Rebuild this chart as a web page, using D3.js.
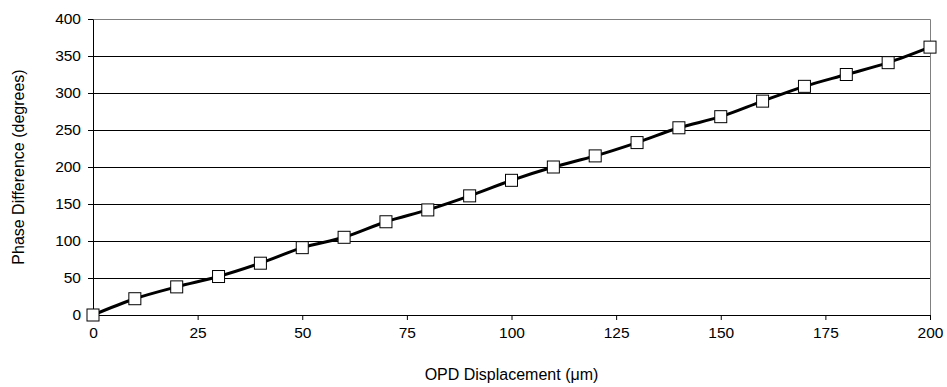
<!DOCTYPE html>
<html>
<head>
<meta charset="utf-8">
<script src="https://cdn.jsdelivr.net/npm/d3@7"></script>
<style>
	body { margin: 0; background: #fff; }
	.axis text { font-family: "Liberation Sans", Arial, sans-serif; font-size: 15.5px; fill: #000; }
	.axis path, .axis line { stroke: #000; }
</style>
</head>
<body>
<div id="area1"></div>
<script>
// data
var opd = [0, 10, 20, 30, 40, 50, 60, 70, 80, 90, 100, 110, 120, 130, 140, 150, 160, 170, 180, 190, 200];
var phase = [0, 22, 38, 52, 70, 91, 105, 126, 142, 161, 182, 200, 215, 233, 253, 268, 289, 309, 325, 341, 362];
var xTicks = [0, 25, 50, 75, 100, 125, 150, 175, 200];
var yTicks = [0, 50, 100, 150, 200, 250, 300, 350, 400];

var svgWidth = 947;
var svgHeight = 387;
var margin = {top: 19, right: 17, bottom: 72, left: 93};
var plotW = svgWidth - margin.left - margin.right;
var plotH = svgHeight - margin.top - margin.bottom;
var sq = 12; //marker size

var points = opd.map(function(d, i){ return {x: d, y: phase[i]}; });

var xScale = d3.scaleLinear().domain([0, 200]).range([0, plotW]);
var yScale = d3.scaleLinear().domain([0, 400]).range([plotH, 0]);

var svg = d3.select("#area1")
	.append("svg")
	.attr("width", svgWidth)
	.attr("height", svgHeight);

var g = svg.append("g")
	.attr("transform", "translate(" + margin.left + "," + margin.top + ")");

//gridlines
g.selectAll("line.grid")
	.data(yTicks.slice(1, -1))
	.enter()
	.append("line")
	.attr("class", "grid")
	.attr("x1", 0)
	.attr("x2", plotW)
	.attr("y1", function(d){ return Math.round(yScale(d)) + 0.5; })
	.attr("y2", function(d){ return Math.round(yScale(d)) + 0.5; })
	.attr("stroke", "#000")
	.attr("stroke-width", 1);

//plot border top and right
g.append("path")
	.attr("d", "M0,0.5H" + (plotW + 0.5) + "V" + plotH)
	.attr("fill", "none")
	.attr("stroke", "#808080")
	.attr("stroke-width", 1);

var xAxis = d3.axisBottom(xScale).tickValues(xTicks).tickSize(5).tickSizeOuter(0).tickPadding(7);
var yAxis = d3.axisLeft(yScale).tickValues(yTicks).tickSize(5).tickSizeOuter(0).tickPadding(7);

g.append("g")
	.attr("class", "axis")
	.attr("transform", "translate(0," + plotH + ")")
	.call(xAxis);

g.append("g")
	.attr("class", "axis")
	.call(yAxis);

//smoothed line
var line = d3.line()
	.x(function(d){ return xScale(d.x); })
	.y(function(d){ return yScale(d.y); })
	.curve(d3.curveCatmullRom.alpha(0.5));

g.append("path")
	.datum(points)
	.attr("d", line)
	.attr("fill", "none")
	.attr("stroke", "#000")
	.attr("stroke-width", 3);

//square markers
g.selectAll("rect.square")
	.data(points)
	.enter()
	.append("rect")
	.attr("class", "square")
	.attr("x", function(d){ return xScale(d.x) - sq / 2; })
	.attr("y", function(d){ return yScale(d.y) - sq / 2; })
	.attr("width", sq)
	.attr("height", sq)
	.attr("fill", "#fff")
	.attr("stroke", "#000")
	.attr("stroke-width", 1);

//x axis label
svg.append("text")
	.attr("x", margin.left + plotW / 2)
	.attr("y", 380)
	.style("text-anchor", "middle")
	.style("font-family", "Liberation Sans, Arial, sans-serif")
	.style("font-size", "16px")
	.text("OPD Displacement (\u03bcm)");

//y axis label
svg.append("text")
	.attr("transform", "translate(24," + (margin.top + plotH / 2) + ") rotate(-90)")
	.style("text-anchor", "middle")
	.style("font-family", "Liberation Sans, Arial, sans-serif")
	.style("font-size", "16px")
	.text("Phase Difference (degrees)");
</script>
</body>
</html>
